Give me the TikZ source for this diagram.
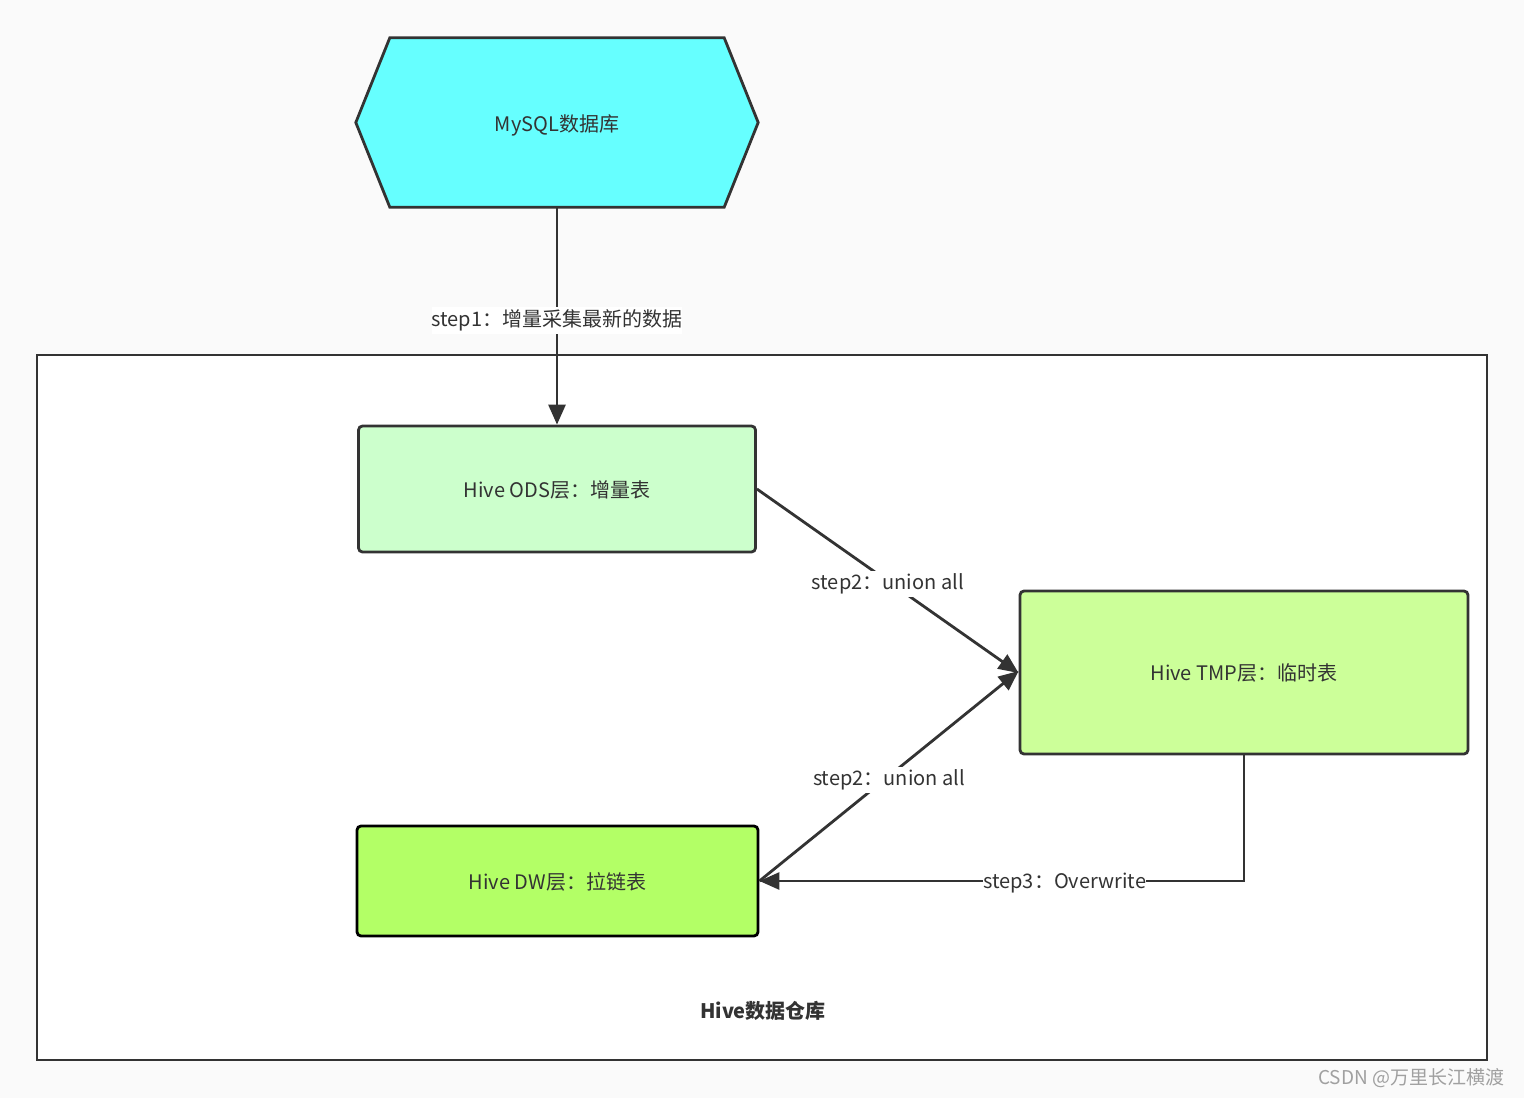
\documentclass[tikz,border=0pt]{standalone}
\usepackage{fontspec}
\setmainfont{Noto Sans CJK SC}
\usetikzlibrary{arrows.meta}
\definecolor{bgc}{HTML}{FAFAFA}
\definecolor{ink}{HTML}{333333}
\definecolor{cyanfill}{HTML}{66FFFF}
\definecolor{odsfill}{HTML}{CCFFCC}
\definecolor{tmpfill}{HTML}{CCFF99}
\definecolor{dwfill}{HTML}{B3FF66}
\definecolor{wm}{HTML}{A0A0A0}
\begin{document}
\begin{tikzpicture}[x=1pt,y=-1pt,
  txt/.style={font=\fontsize{20}{24}\selectfont, text=ink},
  box/.style={draw=ink, line width=2.8pt, rounded corners=4pt, txt, inner sep=0pt, text depth=-4pt},
  conn/.style={draw=ink, line width=2.8pt, -{Triangle[length=20pt,width=17pt]}},
  lab/.style={txt, fill=white, inner xsep=0pt, inner ysep=3pt}]
\fill[bgc] (0,0) rectangle (1524,1098);
\useasboundingbox (0,0) rectangle (1524,1098);
% container
\node[draw=ink, fill=white, line width=2.8pt, minimum width=1450pt, minimum height=705pt, inner sep=0pt] (dw-house) at (762,707.5) {};
\node[txt, font=\fontsize{20}{24}\selectfont\bfseries] (houselab) at (763,1011) {Hive数据仓库};
% MySQL hexagon
\node[minimum width=334pt, minimum height=169pt, inner sep=0pt] (mysql) at (557,122.5) {};
\filldraw[fill=cyanfill, draw=ink, line width=2.8pt, line join=miter]
  (mysql.north west) -- (mysql.north east) -- ([xshift=34pt]mysql.east) -- (mysql.south east)
  -- (mysql.south west) -- ([xshift=-34pt]mysql.west) -- cycle;
\node[txt, inner sep=0pt] (mysqltext) at (557,125) {MySQL数据库};
% boxes
\node[box, fill=odsfill, minimum width=397pt, minimum height=126pt] (ods) at (557,489) {Hive ODS层：增量表};
\node[box, fill=tmpfill, minimum width=448pt, minimum height=163pt] (tmp) at (1244,672.5) {Hive TMP层：临时表};
\node[box, fill=dwfill, draw=black, minimum width=401pt, minimum height=110pt] (dw) at (557.5,881) {Hive DW层：拉链表};
% connectors
\draw[conn] (mysql.south) -- node[lab, pos=0.52] {step1：增量采集最新的数据} (ods.north);
\draw[conn] (ods.east) -- node[lab, pos=0.5, yshift=-3pt] {step2：union all} ([yshift=-0.5pt]tmp.west);
\draw[conn] (dw.east) -- node[lab, pos=0.5, yshift=-4pt] {step2：union all} ([yshift=1.5pt]tmp.west);
\draw[conn] (tmp.south) |- node[lab, pos=0.685, inner ysep=1pt, yshift=-2pt] {step3：Overwrite} (dw.east);
% watermark
\node[font=\fontsize{19}{22}\selectfont, text=wm, anchor=west, inner sep=0pt] (wmark) at (1318,1078) {CSDN @万里长江横渡};
\end{tikzpicture}
\end{document}
